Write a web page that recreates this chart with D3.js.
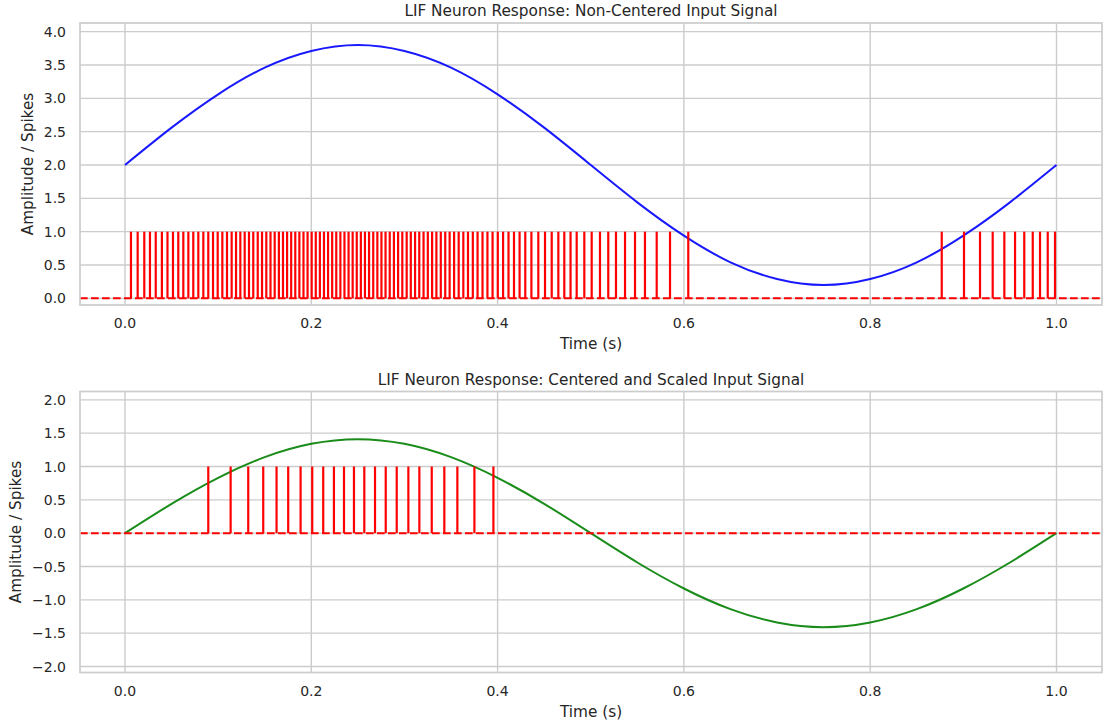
<!DOCTYPE html>
<html>
<head>
<meta charset="utf-8">
<script src="https://cdn.jsdelivr.net/npm/d3@7"></script>
<style>
  body { margin: 0; background: #fff; }
  text { font-family: "DejaVu Sans", sans-serif; fill: #262626; }
</style>
</head>
<body>
<script>
// sample times for the input curves (s)
const times = [0, 0.05, 0.1, 0.15, 0.2, 0.25, 0.3, 0.35, 0.4, 0.45, 0.5,
  0.55, 0.6, 0.65, 0.7, 0.75, 0.8, 0.85, 0.9, 0.95, 1.0]

// non-centered input
const inputTop = [2.00, 2.56, 3.06, 3.46, 3.71, 3.80, 3.71, 3.46, 3.06, 2.56, 2.00,
  1.44, 0.94, 0.54, 0.29, 0.20, 0.29, 0.54, 0.94, 1.44, 2.00]

// centered and scaled input, bottom panel
const inputBottom = [0.00, 0.44, 0.83, 1.14, 1.34, 1.41, 1.34, 1.14, 0.83, 0.44, 0.00,
  -0.44, -0.83, -1.14, -1.34, -1.41, -1.34, -1.14, -0.83, -0.44, 0.00]

// spike times, top panel
const spikesTop = [
  0.0064, 0.0136, 0.0207, 0.0268, 0.0330, 0.0396, 0.0456, 0.0515, 0.0572, 0.0626,
  0.0680, 0.0733, 0.0787, 0.0841, 0.0894, 0.0945, 0.0995, 0.1045, 0.1095, 0.1145,
  0.1192, 0.1238, 0.1285, 0.1331, 0.1377, 0.1425, 0.1471,
  0.1517, 0.1562, 0.1607, 0.1652, 0.1696, 0.1740, 0.1784, 0.1828, 0.1872, 0.1916,
  0.1960, 0.2004, 0.2048, 0.2092, 0.2136, 0.2180, 0.2224, 0.2268, 0.2312, 0.2356,
  0.2400, 0.2444, 0.2488, 0.2532, 0.2576, 0.2620, 0.2665, 0.2709, 0.2753, 0.2797,
  0.2842, 0.2887, 0.2932, 0.2977,
  0.3024, 0.3068, 0.3114, 0.3159, 0.3205, 0.3251, 0.3297, 0.3343, 0.3390, 0.3438,
  0.3485, 0.3533, 0.3582, 0.3632, 0.3682, 0.3734, 0.3785, 0.3838, 0.3891, 0.3946,
  0.4002, 0.4059, 0.4117, 0.4176, 0.4236, 0.4297, 0.4363, 0.4437, 0.4509, 0.4581,
  0.4652, 0.4716, 0.4783, 0.4849, 0.4931, 0.5010, 0.5099, 0.5188, 0.5271, 0.5368,
  0.5475, 0.5582, 0.5708, 0.5851, 0.6047,
  0.8768, 0.9007, 0.9179, 0.9315, 0.9440, 0.9555, 0.9654, 0.9745, 0.9823, 0.9906, 0.9984
]

// spike times, bottom panel
const spikesBottom = [
  0.0894, 0.1134, 0.1323, 0.1484, 0.1627, 0.1752, 0.1885, 0.2010, 0.2128, 0.2243,
  0.2351, 0.2458, 0.2569, 0.2684, 0.2799, 0.2917, 0.3042, 0.3160, 0.3293, 0.3428,
  0.3568, 0.3751, 0.3955
]

const xTicks = [0, 0.2, 0.4, 0.6, 0.8, 1.0]
const yTicksTop = [0, 0.5, 1.0, 1.5, 2.0, 2.5, 3.0, 3.5, 4.0]
const yTicksBottom = [-2.0, -1.5, -1.0, -0.5, 0, 0.5, 1.0, 1.5, 2.0]

const W = 1108, H = 727
const svg = d3.select('body').append('svg')
  .attr('width', W).attr('height', H)

const fmt = d => d3.format('.1f')(d).replace('-', '\u2212')

function panel(o) {
  // 0 and 1 s sit at these pixels in the picture; the frame is wider
  const x = d3.scaleLinear().domain([0, 1]).range([125, 1056.5])
  const y = d3.scaleLinear().domain(o.ydom).range([o.bottom, o.top])
  const g = svg.append('g')

  // grid
  g.selectAll('.gx').data(xTicks).join('line')
    .attr('x1', d => x(d)).attr('x2', d => x(d))
    .attr('y1', o.top).attr('y2', o.bottom)
    .attr('stroke', '#cccccc').attr('stroke-width', 1.4)
  g.selectAll('.gy').data(o.yticks).join('line')
    .attr('x1', o.left).attr('x2', o.right)
    .attr('y1', d => y(d)).attr('y2', d => y(d))
    .attr('stroke', '#cccccc').attr('stroke-width', 1.4)

  // input signal
  const line = d3.line().x((d, i) => x(times[i])).y(d => y(d)).curve(d3.curveNatural)
  g.append('path').attr('d', line(o.input))
    .attr('fill', 'none').attr('stroke', o.color).attr('stroke-width', 2)
    .attr('stroke-opacity', o.opacity)

  // spikes
  g.selectAll('.sp').data(o.spikes).join('line')
    .attr('x1', d => x(d)).attr('x2', d => x(d))
    .attr('y1', y(0)).attr('y2', y(1))
    .attr('stroke', '#ff0000').attr('stroke-width', 2.2)

  // zero line
  g.append('line')
    .attr('x1', o.left).attr('x2', o.right)
    .attr('y1', y(0)).attr('y2', y(0))
    .attr('stroke', '#ff0000').attr('stroke-width', 2)
    .attr('stroke-dasharray', '7.7,3.3')

  // frame
  g.append('rect')
    .attr('x', o.left).attr('y', o.top)
    .attr('width', o.right - o.left).attr('height', o.bottom - o.top)
    .attr('fill', 'none').attr('stroke', '#cccccc').attr('stroke-width', 1.7)

  // tick labels
  g.selectAll('.tx').data(xTicks).join('text')
    .attr('x', d => x(d)).attr('y', o.bottom + 18)
    .attr('text-anchor', 'middle').attr('dominant-baseline', 'central')
    .style('font-size', '14px').text(fmt)
  g.selectAll('.ty').data(o.yticks).join('text')
    .attr('x', o.left - 14).attr('y', d => y(d))
    .attr('text-anchor', 'end').attr('dominant-baseline', 'central')
    .style('font-size', '14px').text(fmt)

  // labels
  g.append('text')
    .attr('x', (o.left + o.right) / 2).attr('y', o.bottom + 39)
    .attr('text-anchor', 'middle').attr('dominant-baseline', 'central')
    .style('font-size', '15.3px').text('Time (s)')
  g.append('text')
    .attr('transform', `translate(${o.ylabX},${(o.top + o.bottom) / 2}) rotate(-90)`)
    .attr('text-anchor', 'middle').attr('dominant-baseline', 'central')
    .style('font-size', '15.3px').text('Amplitude / Spikes')
  g.append('text')
    .attr('x', (o.left + o.right) / 2).attr('y', o.top - 12)
    .attr('text-anchor', 'middle').attr('dominant-baseline', 'central')
    .style('font-size', '15.3px').text(o.title)
}

panel({
  left: 80, right: 1102, top: 23, bottom: 305,
  ydom: [-0.1, 4.13], yticks: yTicksTop,
  input: inputTop, spikes: spikesTop, color: '#0000ff', opacity: 0.9,
  ylabX: 28, title: 'LIF Neuron Response: Non-Centered Input Signal'
})

panel({
  left: 80, right: 1102, top: 391.5, bottom: 672.5,
  ydom: [-2.09, 2.125], yticks: yTicksBottom,
  input: inputBottom, spikes: spikesBottom, color: '#008000', opacity: 0.9,
  ylabX: 16, title: 'LIF Neuron Response: Centered and Scaled Input Signal'
})
</script>
</body>
</html>
